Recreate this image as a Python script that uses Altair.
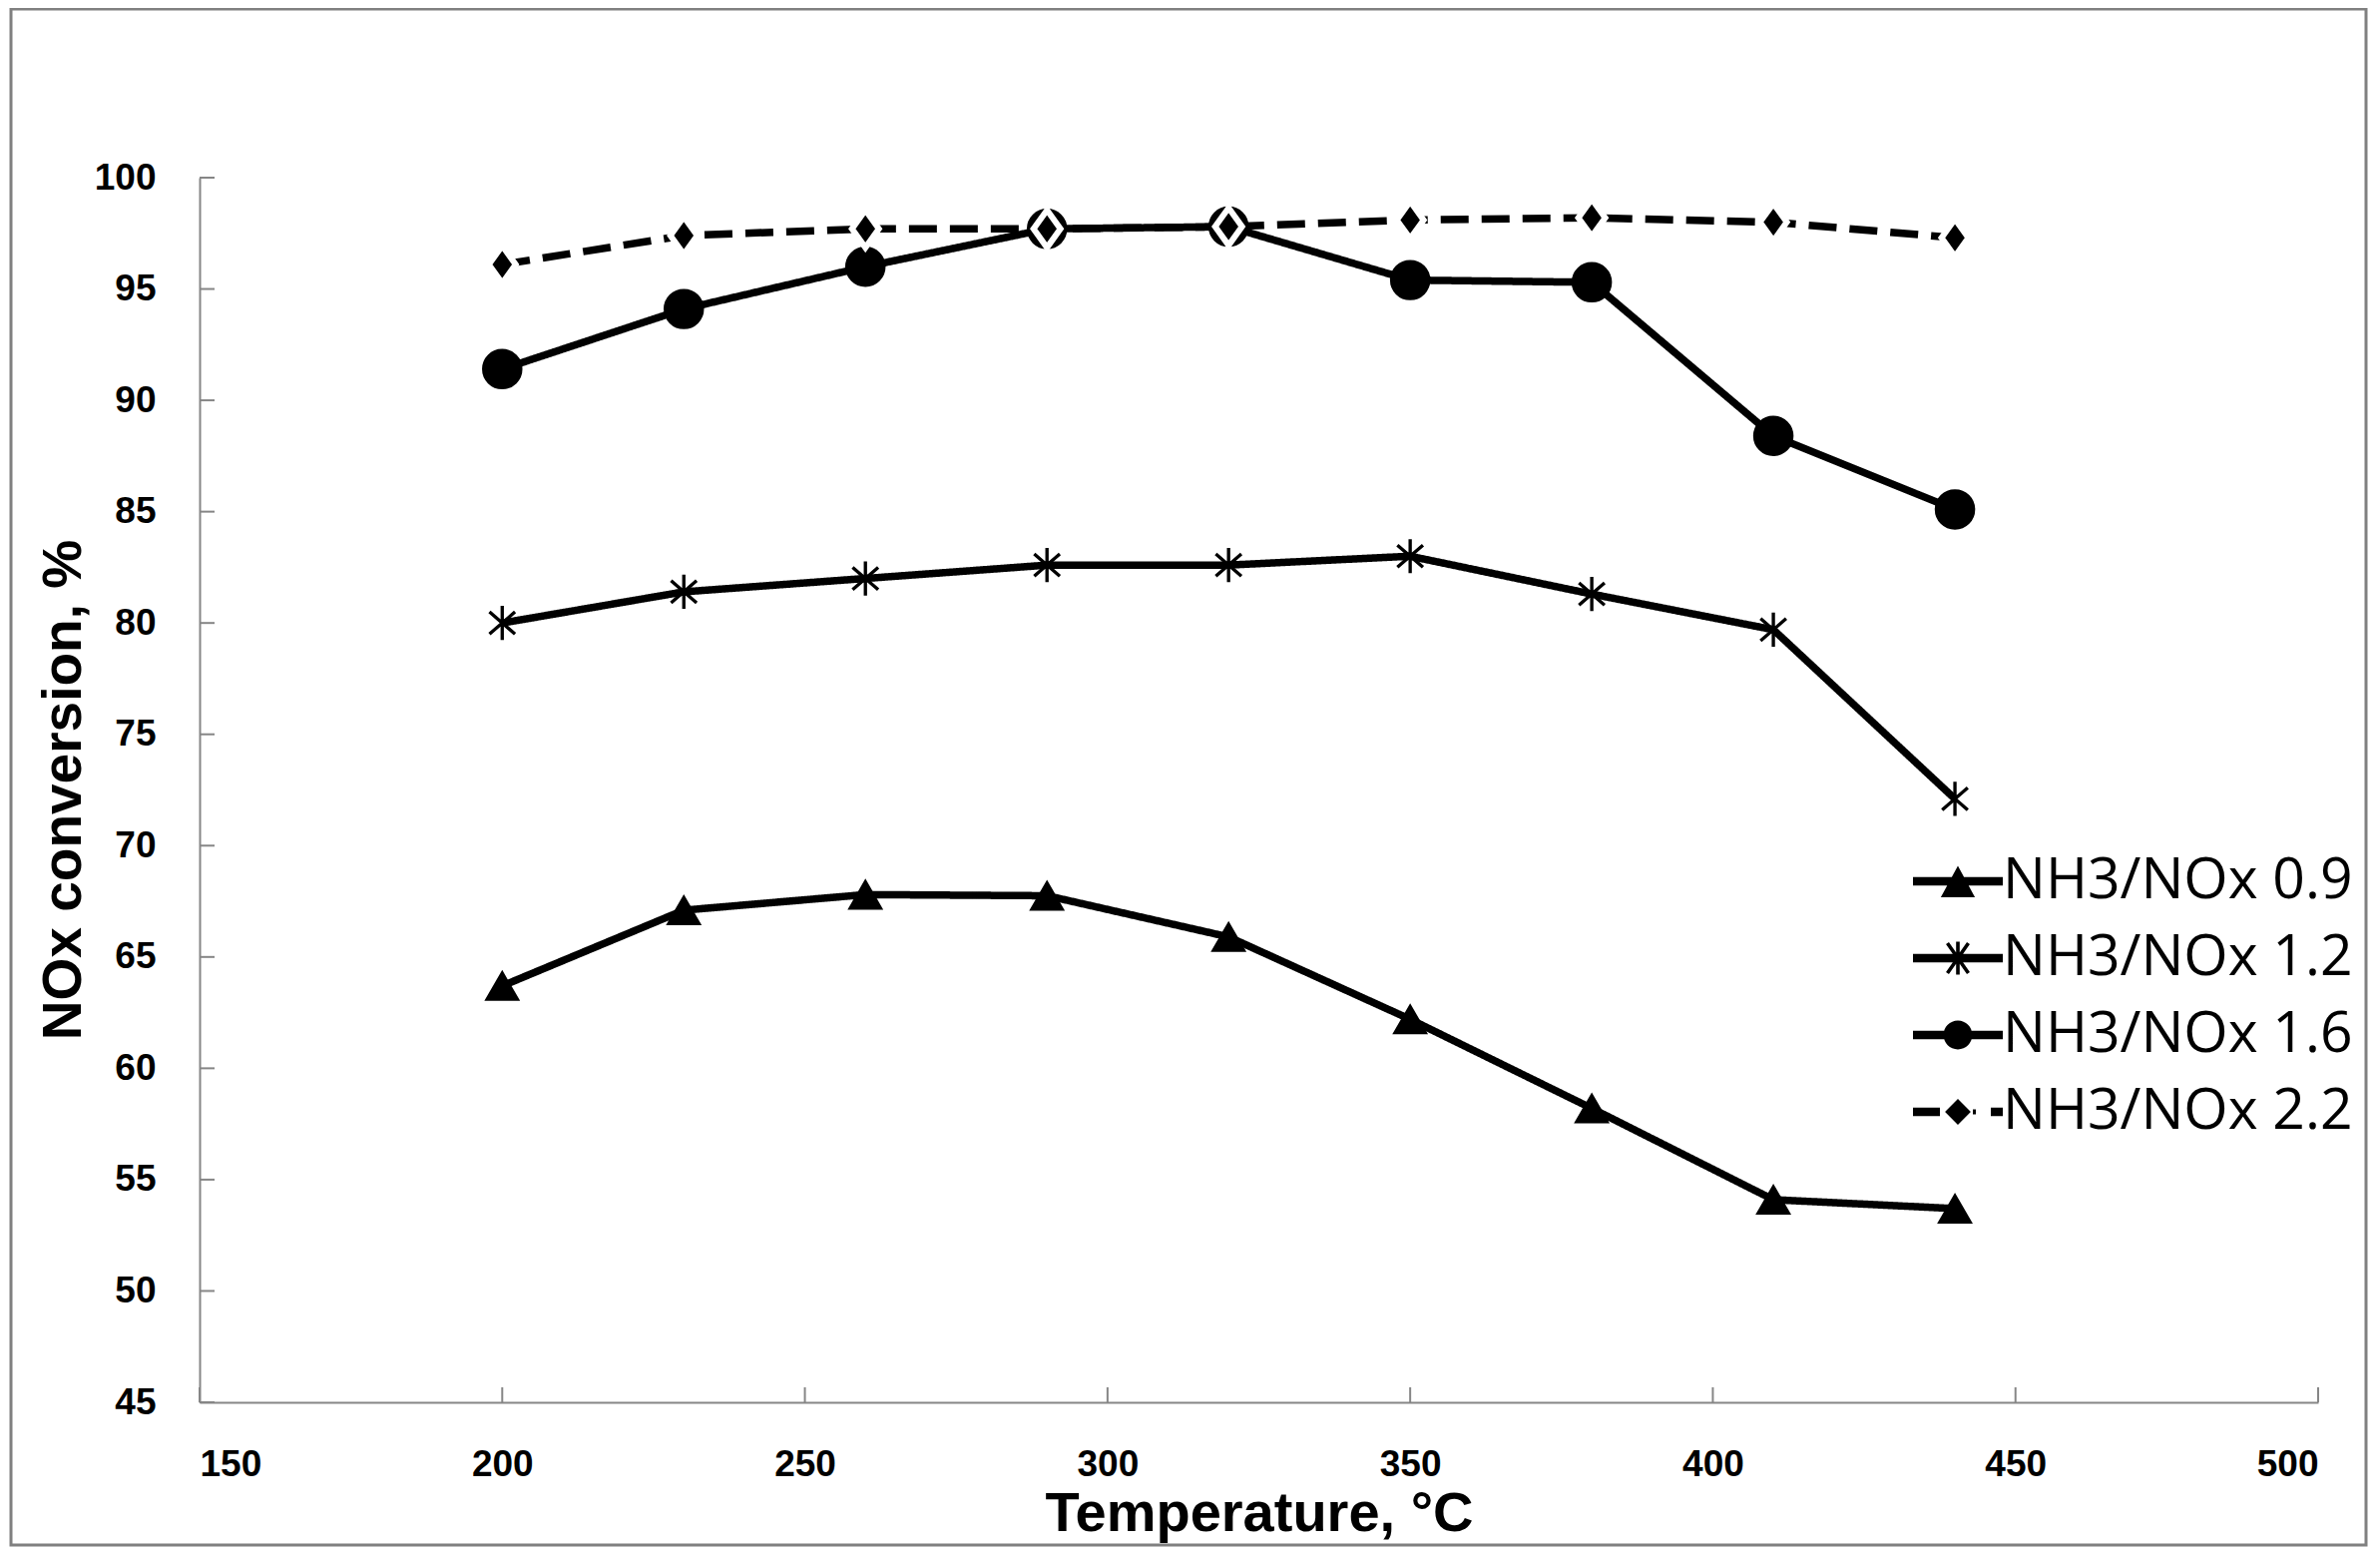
import altair as alt
import pandas as pd

# ---- data ----
temperature = [200, 230, 260, 290, 320, 350, 380, 410, 440]
series_names = ["NH3/NOx 0.9", "NH3/NOx 1.2", "NH3/NOx 1.6", "NH3/NOx 2.2"]
conv_09 = [63.7, 67.1, 67.8, 67.75, 65.9, 62.2, 58.2, 54.1, 53.7]
conv_12 = [80.0, 81.4, 82.0, 82.6, 82.6, 83.0, 81.3, 79.7, 72.1]
conv_16 = [91.4, 94.1, 96.0, 97.7, 97.8, 95.4, 95.3, 88.4, 85.1]
conv_22 = [96.1, 97.4, 97.7, 97.7, 97.8, 98.1, 98.2, 98.0, 97.3]
x_ticks = [150, 200, 250, 300, 350, 400, 450, 500]
y_ticks = [45, 50, 55, 60, 65, 70, 75, 80, 85, 90, 95, 100]

rows = []
for name, vals in zip(series_names, [conv_09, conv_12, conv_16, conv_22]):
    for t, v in zip(temperature, vals):
        rows.append({"T": t, "conv": v, "series": name})
df = pd.DataFrame(rows)

W, H = 2123, 1227
AXIS_GREY = "#868686"

# marker shapes on the plot
tri = "triangle-up"
aster = "M0,-1V1M-0.75,-0.65L0.75,0.65M-0.75,0.65L0.75,-0.65"
circ = "circle"
diam = "M0,-1L0.72,0L0,1L-0.72,0Z"

# legend symbols (line + marker) built only from filled outlines (same winding)
LINE = "M-1.5,-0.14H1.5V0.14H-1.5Z"
leg_tri = LINE + "M0,-0.52L0.57,0.53L-0.57,0.53Z"
leg_ast = (LINE + "M-0.06,-0.55H0.06V0.55H-0.06Z"
           "M-0.399,-0.466L-0.301,-0.534L0.399,0.466L0.301,0.534Z"
           "M-0.301,0.534L-0.399,0.466L0.301,-0.534L0.399,-0.466Z")
leg_circ = (LINE + "M0.48,0C0.48,0.265 0.265,0.48 0,0.48C-0.265,0.48 -0.48,0.265 -0.48,0"
            "C-0.48,-0.265 -0.265,-0.48 0,-0.48C0.265,-0.48 0.48,-0.265 0.48,0Z")
leg_diam = ("M-1.5,-0.14H-0.6V0.14H-1.5Z"
            "M0.5,-0.08H0.6V0.08H0.5Z"
            "M1.1,-0.14H1.5V0.14H1.1Z"
            "M0,-0.43L0.43,0L0,0.43L-0.43,0Z")

xscale = alt.Scale(domain=[150, 500], nice=False, zero=False)
yscale = alt.Scale(domain=[45, 100], nice=False, zero=False)

x_axis = alt.Axis(
    values=x_ticks, title="Temperature, °C", grid=False, ticks=False, tickSize=0,
    labelFont="Liberation Sans", labelFontWeight="bold", labelFontSize=37, labelColor="black",
    labelPadding=44, domainColor=AXIS_GREY, domainWidth=2,
    titleFont="Liberation Sans", titleFontWeight="bold", titleFontSize=56, titleColor="black",
    titlePadding=4,
)
y_axis = alt.Axis(
    values=y_ticks, title="NOx conversion, %", grid=False, ticks=False, tickSize=0,
    labelFont="Liberation Sans", labelFontWeight="bold", labelFontSize=37, labelColor="black",
    labelPadding=44, domainColor=AXIS_GREY, domainWidth=2,
    titleFont="Liberation Sans", titleFontWeight="bold", titleFontSize=55, titleColor="black",
    titleX=-120, titleY=613, titleBaseline="alphabetic", titleAnchor="middle",
)

base = alt.Chart(df)

lines = base.mark_line(color="black", strokeWidth=7.5, strokeCap="butt").encode(
    x=alt.X("T:Q", scale=xscale, axis=x_axis),
    y=alt.Y("conv:Q", scale=yscale, axis=y_axis),
    detail="series:N",
    strokeDash=alt.StrokeDash(
        "series:N",
        scale=alt.Scale(domain=series_names, range=[[1, 0], [1, 0], [1, 0], [28, 13]]),
        legend=None,
    ),
)

points = base.mark_point(filled=True, fill="black", opacity=1).encode(
    x=alt.X("T:Q", scale=xscale),
    y=alt.Y("conv:Q", scale=yscale),
    shape=alt.Shape("series:N", scale=alt.Scale(domain=series_names, range=[tri, aster, circ, diam]), legend=None),
    size=alt.Size("series:N", scale=alt.Scale(domain=series_names, range=[1050, 1400, 950, 700]), legend=None),
    stroke=alt.Stroke("series:N", scale=alt.Scale(domain=series_names, range=["black", "black", "black", "white"]), legend=None),
    strokeWidth=alt.StrokeWidth("series:O", scale=alt.Scale(domain=series_names, range=[2, 6, 2, 2]), legend=None),
)

legend_layer = base.transform_filter("datum.T < 0").mark_point(
    filled=True, fill="black", size=3600, opacity=1
).encode(
    x=alt.X("T:Q", scale=xscale),
    y=alt.Y("conv:Q", scale=yscale),
    shape=alt.Shape(
        "series:N",
        scale=alt.Scale(domain=series_names, range=[leg_tri, leg_ast, leg_circ, leg_diam]),
        legend=alt.Legend(
            title=None, orient="none", legendX=1731, legendY=674,
            labelFont="Open Sans", labelFontSize=57, labelColor="black", labelOffset=14,
            symbolSize=3600, symbolFillColor="black",
            rowPadding=18, padding=0, labelLimit=600,
        ),
    ),
)

ytick_rules = alt.Chart(pd.DataFrame({"v": y_ticks})).mark_rule(color=AXIS_GREY, strokeWidth=2).encode(
    y=alt.Y("v:Q", scale=yscale), x=alt.value(0), x2=alt.value(15)
)
xtick_rules = alt.Chart(pd.DataFrame({"v": x_ticks})).mark_rule(color=AXIS_GREY, strokeWidth=2).encode(
    x=alt.X("v:Q", scale=xscale), y=alt.value(H), y2=alt.value(H - 15)
)

frame = alt.Chart(pd.DataFrame({"a": [0]})).mark_rect(
    fill="white", fillOpacity=0, stroke="#808080", strokeWidth=3
).encode(x=alt.value(-189), x2=alt.value(2171), y=alt.value(-169), y2=alt.value(1370))

chart = alt.layer(frame, ytick_rules, xtick_rules, lines, points, legend_layer).resolve_scale(
    shape="independent", size="independent"
).properties(
    width=W, height=H,
    padding={"left": 192, "top": 170, "right": 52, "bottom": 146},
    autosize=alt.AutoSizeParams(type="none"),
    background="white",
).configure_view(stroke=None)

chart.save("out.html", embed_options={"renderer": "svg", "actions": False})
